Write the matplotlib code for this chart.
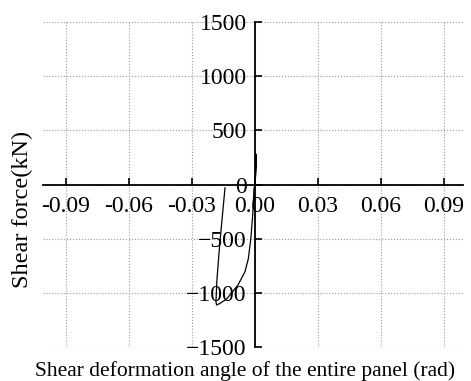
import matplotlib.pyplot as plt
import numpy as np

plt.rcParams['font.family'] = ['Liberation Serif', 'DejaVu Serif']

# Hysteresis curve (rad, kN)
angle = [0.0, 0.0003, 0.0006, 0.0003, 0.0, -0.0005, -0.0011, -0.0020, -0.0032,
         -0.0048, -0.0081, -0.0135, -0.0170, -0.0183, -0.0186, -0.0182,
         -0.0175, -0.0167, -0.0155, -0.0143]
force = [0, 120, 280, 100, 0, -37, -278, -500, -685,
         -805, -926, -1056, -1100, -1111, -1083, -898,
         -720, -528, -280, -30]

xticks = [-0.09, -0.06, -0.03, 0.00, 0.03, 0.06, 0.09]
yticks = [-1500, -1000, -500, 0, 500, 1000, 1500]

fig = plt.figure(figsize=(4.71, 3.81), dpi=100)
ax = fig.add_axes([0.091, 0.089, 0.892, 0.853])

ax.plot(angle, force, color='black', lw=0.9)

ax.set_xlim(-0.101, 0.099)
ax.set_ylim(-1500, 1500)
ax.set_xticks(xticks)
ax.set_xticklabels(['%.2f' % v for v in xticks])
ax.set_yticks(yticks)

ax.spines['left'].set_position('zero')
ax.spines['bottom'].set_position('zero')
ax.spines['top'].set_visible(False)
ax.spines['right'].set_visible(False)
for s in ('left', 'bottom'):
    ax.spines[s].set_linewidth(1.3)

ax.tick_params(direction='in', length=5, width=1.2, labelsize=17)
ax.tick_params(axis='x', pad=8)
ax.tick_params(axis='y', pad=6)
ax.grid(True, linestyle=':', color='#999999', lw=0.8)

fig.text(0.047, 0.45, 'Shear force(kN)', rotation=90, fontsize=17.5,
         ha='center', va='center')
fig.text(0.52, 0.026, 'Shear deformation angle of the entire panel (rad)',
         fontsize=15.5, ha='center', va='center')

fig.savefig('out.png', dpi=100)
